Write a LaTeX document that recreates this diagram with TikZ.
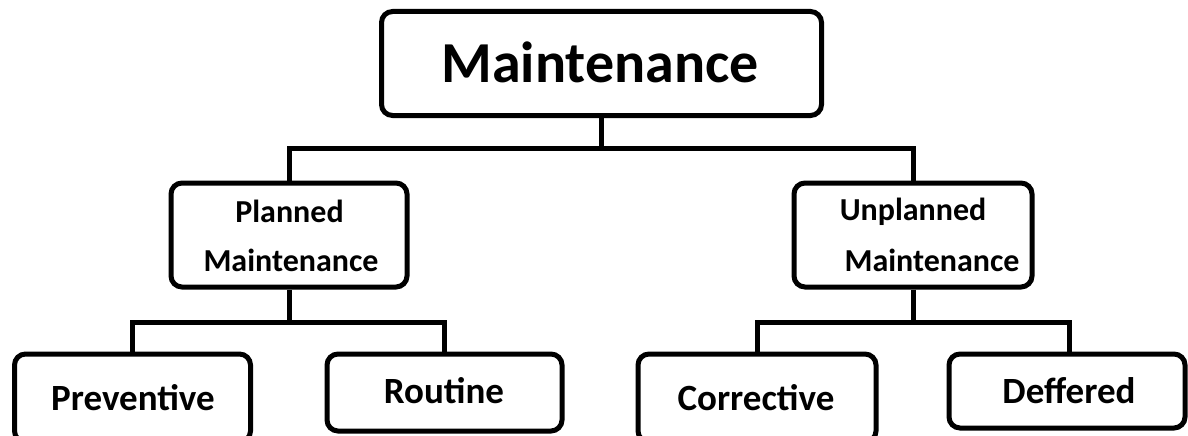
\documentclass[tikz,border=0pt]{standalone}
\usepackage{fontspec}
\setmainfont{Carlito}
\begin{document}
\begin{tikzpicture}[x=1pt,y=-1pt,
  box/.style={draw=black,line width=5pt,rounded corners=11pt,fill=white,inner sep=0pt},
  wire/.style={draw=black,line width=5pt},
  txt/.style={anchor=base,inner sep=0pt,font=\bfseries}]
\useasboundingbox (0,0) rectangle (1188,436);
% boxes
\node[box,minimum width=440pt,minimum height=104pt] (top) at (601.5,63.5) {};
\node[box,minimum width=236pt,minimum height=104pt] (planned) at (289,235) {};
\node[box,minimum width=238pt,minimum height=104pt] (unplanned) at (913,235) {};
\node[box,minimum width=236pt,minimum height=88pt] (preventive) at (132.5,398) {};
\node[box,minimum width=235pt,minimum height=77pt] (routine) at (444.5,392.5) {};
\node[box,minimum width=238pt,minimum height=88pt] (corrective) at (757,398) {};
\node[box,minimum width=236pt,minimum height=74pt] (deffered) at (1067,391) {};
% connectors
\draw[wire] (planned.north) |- (601.5,148) coordinate (tj) -| (unplanned.north);
\draw[wire] (top.south) -- (tj);
\draw[wire] (preventive.north) |- (289,322) coordinate (pj) -| (routine.north);
\draw[wire] (planned.south) -- (pj);
\draw[wire] (corrective.north) |- (913,322) coordinate (uj) -| (1069,353);
\draw[wire] (unplanned.south) -- (uj);
% texts
\node[txt,font=\bfseries\fontsize{58}{58}\selectfont] (ttop) at (600,82) {Maintenance};
\node[txt,font=\bfseries\fontsize{32}{32}\selectfont] (tp1) at (289.5,222) {Planned};
\node[txt,font=\bfseries\fontsize{32}{32}\selectfont] (tp2) at (291,271) {Maintenance};
\node[txt,font=\bfseries\fontsize{32}{32}\selectfont] (tu1) at (913,220) {Unplanned};
\node[txt,font=\bfseries\fontsize{32}{32}\selectfont] (tu2) at (932,271) {Maintenance};
\node[txt,font=\bfseries\fontsize{37}{37}\selectfont] (tpr) at (133,410) {Preventive};
\node[txt,font=\bfseries\fontsize{37}{37}\selectfont] (tro) at (444,403) {Routine};
\node[txt,font=\bfseries\fontsize{37}{37}\selectfont] (tco) at (756,410) {Corrective};
\node[txt,font=\bfseries\fontsize{37}{37}\selectfont] (tde) at (1069,403) {Deffered};
\end{tikzpicture}
\end{document}
